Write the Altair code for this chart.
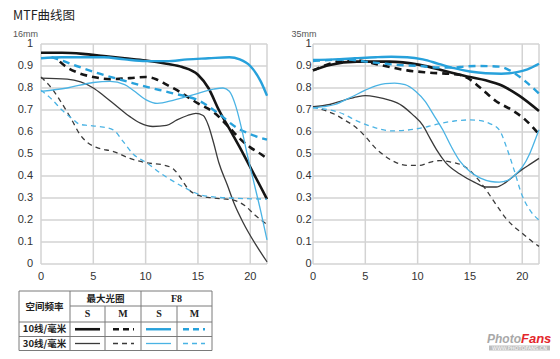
import altair as alt
import pandas as pd

# ---------------- data: 16mm panel ----------------
L_S10_x = [0, 2, 4, 6, 8, 10, 12, 13.5, 15, 16, 17, 18, 19, 20, 21, 21.6]
L_S10_y = [0.96, 0.96, 0.955, 0.945, 0.935, 0.925, 0.91, 0.895, 0.86, 0.8, 0.7, 0.615, 0.53, 0.44, 0.35, 0.295]
L_M10_x = [1.8, 2.3, 3.5, 5, 6.6, 8.5, 10, 11, 12, 13, 14, 15, 16.5, 18, 19, 20, 21, 21.6]
L_M10_y = [0.92, 0.9, 0.87, 0.85, 0.84, 0.845, 0.85, 0.84, 0.815, 0.79, 0.76, 0.73, 0.69, 0.62, 0.57, 0.53, 0.5, 0.48]
L_F8S10_x = [0, 2, 4, 6, 8, 10, 12, 14, 16, 18, 19, 20, 21, 21.6]
L_F8S10_y = [0.935, 0.94, 0.94, 0.94, 0.93, 0.922, 0.922, 0.93, 0.935, 0.94, 0.93, 0.9, 0.83, 0.765]
L_F8M10_x = [1, 2, 3.4, 5.6, 8.2, 10.1, 12.7, 15.2, 16.8, 18.7, 20, 21.6]
L_F8M10_y = [0.94, 0.925, 0.9, 0.865, 0.83, 0.805, 0.775, 0.74, 0.69, 0.62, 0.59, 0.565]
L_S30_x = [0, 2.5, 5, 6, 7.3, 8.5, 9.5, 10.7, 12, 13, 14, 14.8, 15.5, 16, 16.5, 17, 17.8, 18.5, 19.3, 20.5, 21.6]
L_S30_y = [0.845, 0.84, 0.8, 0.765, 0.715, 0.67, 0.64, 0.625, 0.63, 0.655, 0.675, 0.685, 0.675, 0.63, 0.55, 0.46, 0.36, 0.27, 0.19, 0.09, 0.01]
L_M30_x = [0, 1, 2, 3, 3.7, 4.5, 5.3, 7, 8.5, 10.1, 11.7, 12.7, 13.5, 14, 15.2, 16.5, 18.4, 19.5, 20.5, 21.6]
L_M30_y = [0.85, 0.8, 0.73, 0.65, 0.59, 0.55, 0.53, 0.51, 0.48, 0.46, 0.45, 0.43, 0.38, 0.345, 0.31, 0.3, 0.29, 0.265, 0.22, 0.18]
L_F8S30_x = [0, 2.5, 5, 6.6, 8, 8.8, 10.1, 11.1, 12.7, 14.6, 16.5, 17.4, 18, 18.6, 19.2, 19.7, 20.3, 21, 21.6]
L_F8S30_y = [0.785, 0.8, 0.825, 0.83, 0.815, 0.79, 0.745, 0.73, 0.745, 0.77, 0.795, 0.8, 0.785, 0.72, 0.61, 0.5, 0.38, 0.24, 0.11]
L_F8M30_x = [0, 1, 2, 3, 3.7, 4.5, 5.5, 6.9, 7.8, 8.8, 10.1, 11.5, 12.5, 14, 15.2, 16.5, 18, 19.5, 21.6]
L_F8M30_y = [0.79, 0.75, 0.7, 0.66, 0.635, 0.63, 0.625, 0.61, 0.56, 0.5, 0.46, 0.41, 0.38, 0.34, 0.315, 0.305, 0.3, 0.297, 0.295]

# ---------------- data: 35mm panel ----------------
R_S10_x = [0, 1.6, 4.2, 7.3, 10.2, 12.8, 15, 16.5, 18.1, 19.7, 21.6]
R_S10_y = [0.88, 0.905, 0.92, 0.92, 0.905, 0.875, 0.85, 0.835, 0.81, 0.765, 0.695]
R_M10_x = [0, 1.6, 3, 4.2, 6.4, 9, 11.1, 14, 14.8, 15.9, 17.5, 19, 20.3, 21.6]
R_M10_y = [0.88, 0.91, 0.925, 0.925, 0.905, 0.88, 0.87, 0.86, 0.845, 0.805, 0.74, 0.7, 0.655, 0.59]
R_F8S10_x = [0, 2, 4, 6, 7.5, 9, 10.5, 12, 13.5, 15, 16.5, 18, 19.5, 20.5, 21.6]
R_F8S10_y = [0.927, 0.93, 0.935, 0.94, 0.942, 0.94, 0.93, 0.91, 0.89, 0.875, 0.867, 0.865, 0.872, 0.885, 0.91]
R_F8M10_x = [0, 2, 3.2, 5, 6.4, 8, 10.2, 12, 13.3, 14.6, 16, 17.8, 19, 20.3, 21.6]
R_F8M10_y = [0.923, 0.928, 0.93, 0.92, 0.913, 0.905, 0.9, 0.893, 0.893, 0.898, 0.9, 0.897, 0.875, 0.83, 0.775]
R_S30_x = [0, 1.6, 3, 4.2, 5, 6, 7.3, 8.5, 9.5, 10.5, 11.2, 11.8, 12.7, 14, 15.5, 16.5, 17.5, 18.4, 19.2, 20, 20.8, 21.6]
R_S30_y = [0.715, 0.725, 0.745, 0.76, 0.765, 0.76, 0.745, 0.72, 0.68, 0.63, 0.57, 0.52, 0.46, 0.41, 0.37, 0.35, 0.35, 0.37, 0.4, 0.43, 0.455, 0.48]
R_M30_x = [0, 1, 2.1, 3, 4, 5, 5.9, 6.9, 8, 9, 10.2, 11, 12.1, 13, 14.6, 15.5, 16.5, 17.5, 18.4, 19.2, 20, 21, 21.6]
R_M30_y = [0.715, 0.7, 0.68, 0.655, 0.625, 0.58, 0.53, 0.49, 0.46, 0.448, 0.448, 0.46, 0.47, 0.465, 0.44, 0.4, 0.34, 0.27, 0.21, 0.17, 0.14, 0.1, 0.08]
R_F8S30_x = [0, 1, 2.1, 3.5, 5, 6, 6.9, 7.8, 8.8, 9.8, 10.7, 11.5, 12.4, 13.2, 14, 15, 16, 17, 17.8, 18.6, 19.3, 20, 20.7, 21.2, 21.6]
R_F8S30_y = [0.71, 0.715, 0.725, 0.755, 0.79, 0.81, 0.82, 0.822, 0.815, 0.785, 0.74, 0.68, 0.61, 0.535, 0.47, 0.42, 0.39, 0.375, 0.372, 0.38, 0.405, 0.44, 0.5, 0.56, 0.61]
R_F8M30_x = [0, 1, 2.1, 3, 4, 5, 5.9, 7.5, 9.7, 11, 12.1, 13.5, 15, 16, 16.8, 17.8, 18.5, 19.2, 20, 20.8, 21.6]
R_F8M30_y = [0.71, 0.705, 0.695, 0.68, 0.655, 0.635, 0.62, 0.605, 0.613, 0.625, 0.638, 0.65, 0.655, 0.652, 0.64, 0.61, 0.53, 0.43, 0.31, 0.24, 0.2]

x_ticks = [0, 5, 10, 15, 20]
x_labels = ["0", "5", "10", "15", "20"]
y_ticks = [0, 0.1, 0.2, 0.3, 0.4, 0.5, 0.6, 0.7, 0.8, 0.9, 1]
y_labels = ["0", "0.1", "0.2", "0.3", "0.4", "0.5", "0.6", "0.7", "0.8", "0.9", "1"]
x_max = 21.6

series_keys = ["S10", "M10", "F8S10", "F8M10", "S30", "M30", "F8S30", "F8M30"]

left_data = {
    "S10": (L_S10_x, L_S10_y), "M10": (L_M10_x, L_M10_y),
    "F8S10": (L_F8S10_x, L_F8S10_y), "F8M10": (L_F8M10_x, L_F8M10_y),
    "S30": (L_S30_x, L_S30_y), "M30": (L_M30_x, L_M30_y),
    "F8S30": (L_F8S30_x, L_F8S30_y), "F8M30": (L_F8M30_x, L_F8M30_y),
}
right_data = {
    "S10": (R_S10_x, R_S10_y), "M10": (R_M10_x, R_M10_y),
    "F8S10": (R_F8S10_x, R_F8S10_y), "F8M10": (R_F8M10_x, R_F8M10_y),
    "S30": (R_S30_x, R_S30_y), "M30": (R_M30_x, R_M30_y),
    "F8S30": (R_F8S30_x, R_F8S30_y), "F8M30": (R_F8M30_x, R_F8M30_y),
}

BLACK = "#151515"
DARK = "#3a3a3a"
BLUE = "#27a1db"
LBLUE = "#4ab3e4"
GRID = "#d3d3d3"
styles = {
    "S10": dict(color=BLACK, strokeWidth=2.6),
    "M10": dict(color=BLACK, strokeWidth=2.6, strokeDash=[7, 5]),
    "F8S10": dict(color=BLUE, strokeWidth=2.4),
    "F8M10": dict(color=BLUE, strokeWidth=2.4, strokeDash=[7, 5]),
    "S30": dict(color=DARK, strokeWidth=1.3),
    "M30": dict(color=DARK, strokeWidth=1.3, strokeDash=[5, 4]),
    "F8S30": dict(color=LBLUE, strokeWidth=1.3),
    "F8M30": dict(color=LBLUE, strokeWidth=1.3, strokeDash=[5, 4]),
}

W, H = 543, 343          # whole drawing (svg) size
PLOT_TOP, PLOT_BOT = 36, 256
YSC = alt.Scale(domain=[0, 1], range=[PLOT_BOT, PLOT_TOP], nice=False, zero=False)

layers = []


def to_df(d):
    rows = []
    for k in series_keys:
        xs, ys = d[k]
        for a, b in zip(xs, ys):
            rows.append({"x": a, "v": b, "s": k})
    return pd.DataFrame(rows)


def add_panel(d, x0, x1, lab_right, label, label_x):
    xsc = alt.Scale(domain=[0, x_max], range=[x0, x1], nice=False, zero=False)
    # grid
    layers.append(alt.Chart(pd.DataFrame({"x": x_ticks})).mark_rule(color=GRID, strokeWidth=1.5).encode(
        x=alt.X("x:Q", scale=xsc, axis=None), y=alt.value(PLOT_TOP), y2=alt.value(PLOT_BOT)))
    layers.append(alt.Chart(pd.DataFrame({"v": y_ticks})).mark_rule(color=GRID, strokeWidth=1.5).encode(
        y=alt.Y("v:Q", scale=YSC, axis=None), x=alt.value(x0), x2=alt.value(x1)))
    layers.append(alt.Chart(pd.DataFrame({"x": [x_max], "v": [0]})).mark_rule(color=GRID, strokeWidth=1.5).encode(
        x=alt.X("x:Q", scale=xsc, axis=None), y=alt.value(PLOT_TOP), y2=alt.value(PLOT_BOT)))
    # curves
    df = to_df(d)
    for k in series_keys:
        layers.append(
            alt.Chart(df).mark_line(interpolate="monotone", **styles[k])
            .encode(x=alt.X("x:Q", scale=xsc, axis=None), y=alt.Y("v:Q", scale=YSC, axis=None))
            .transform_filter(alt.datum.s == k)
        )
    # tick labels
    layers.append(alt.Chart(pd.DataFrame({"x": x_ticks, "t": x_labels})).mark_text(
        fontSize=11, font="Liberation Sans", color="#333333", baseline="middle").encode(
        x=alt.X("x:Q", scale=xsc, axis=None), y=alt.value(PLOT_BOT + 13), text="t:N"))
    layers.append(alt.Chart(pd.DataFrame({"v": y_ticks, "t": y_labels})).mark_text(
        fontSize=11, font="Liberation Sans", color="#333333", baseline="middle", align="right").encode(
        y=alt.Y("v:Q", scale=YSC, axis=None), x=alt.value(lab_right), text="t:N"))
    # focal length label
    layers.append(alt.Chart(pd.DataFrame({"t": [label]})).mark_text(
        align="left", baseline="middle", fontSize=9, color="#555555", font="Liberation Sans").encode(
        x=alt.value(label_x), y=alt.value(25.5), text="t:N"))


add_panel(left_data, 33, 259, 25, "16mm", 5)
add_panel(right_data, 305, 531, 303.5, "35mm", 283.5)

# title
layers.append(alt.Chart(pd.DataFrame({"t": ["MTF曲线图"]})).mark_text(
    align="left", baseline="middle", fontSize=12.5, color="#222222", font="Noto Sans CJK SC").encode(
    x=alt.value(5), y=alt.value(8), text="t:N"))

# ---------------- legend table (page-pixel coordinates) ----------------
TX = alt.Scale(domain=[8, 8 + W], range=[0, W], nice=False, zero=False)
TY = alt.Scale(domain=[8, 8 + H], range=[0, H], nice=False, zero=False)

T_top, T_h1, T_h2, T_r1, T_bot = 291, 306, 322, 336.5, 350.5
C0, C1, C2, C3, C4, C5 = 19, 70, 105, 141, 177, 212
segs = [
    (C0, C5, T_top, T_top), (C0, C5, T_bot, T_bot), (C0, C0, T_top, T_bot), (C5, C5, T_top, T_bot),
    (C1, C1, T_top, T_bot), (C3, C3, T_top, T_bot), (C2, C2, T_h1, T_bot), (C4, C4, T_h1, T_bot),
    (C1, C5, T_h1, T_h1), (C0, C5, T_h2, T_h2), (C0, C5, T_r1, T_r1),
]
seg_df = pd.DataFrame(segs, columns=["x", "x2", "y", "y2"])
layers.append(alt.Chart(seg_df).mark_rule(color="#7a7a7a", strokeWidth=1).encode(
    x=alt.X("x:Q", scale=TX, axis=None), x2="x2:Q", y=alt.Y("y:Q", scale=TY, axis=None), y2="y2:Q"))

r1c = (T_h2 + T_r1) / 2
r2c = (T_r1 + T_bot) / 2
h1c = (T_top + T_h1) / 2
h2c = (T_h1 + T_h2) / 2
cn_df = pd.DataFrame({
    "t": ["空间频率", "最大光圈", "10线/毫米", "30线/毫米"],
    "x": [(C0 + C1) / 2, (C1 + C3) / 2, (C0 + C1) / 2, (C0 + C1) / 2],
    "y": [(T_top + T_h2) / 2, h1c, r1c, r2c],
})
layers.append(alt.Chart(cn_df).mark_text(fontSize=9.5, font="Noto Sans CJK SC", fontWeight="bold",
                                         color="#222222", baseline="middle").encode(
    x=alt.X("x:Q", scale=TX, axis=None), y=alt.Y("y:Q", scale=TY, axis=None), text="t:N"))
lat_df = pd.DataFrame({
    "t": ["F8", "S", "M", "S", "M"],
    "x": [(C3 + C5) / 2, (C1 + C2) / 2, (C2 + C3) / 2, (C3 + C4) / 2, (C4 + C5) / 2],
    "y": [h1c, h2c, h2c, h2c, h2c],
})
layers.append(alt.Chart(lat_df).mark_text(fontSize=10, font="Liberation Serif", fontWeight="bold",
                                          color="#222222", baseline="middle").encode(
    x=alt.X("x:Q", scale=TX, axis=None), y=alt.Y("y:Q", scale=TY, axis=None), text="t:N"))

sample_cells = {
    "S10": (75, 100, r1c), "M10": (113, 134, r1c), "F8S10": (146, 171, r1c), "F8M10": (183, 205, r1c),
    "S30": (75, 100, r2c), "M30": (113, 134, r2c), "F8S30": (146, 171, r2c), "F8M30": (183, 205, r2c),
}
for k in series_keys:
    a, b, yy = sample_cells[k]
    st = dict(styles[k])
    if "strokeDash" in st:
        st["strokeDash"] = [6, 4] if st["strokeWidth"] > 2 else [5, 4]
    layers.append(alt.Chart(pd.DataFrame({"x": [a], "x2": [b], "y": [yy]})).mark_rule(**st).encode(
        x=alt.X("x:Q", scale=TX, axis=None), x2="x2:Q", y=alt.Y("y:Q", scale=TY, axis=None)))

# watermark
layers.append(alt.Chart(pd.DataFrame({"t": ["Photo"], "x": [521], "y": [338.5]})).mark_text(
    align="right", baseline="middle", fontSize=12, font="Liberation Sans", fontWeight="bold",
    fontStyle="italic", color="#a8a8a8").encode(
    x=alt.X("x:Q", scale=TX, axis=None), y=alt.Y("y:Q", scale=TY, axis=None), text="t:N"))
layers.append(alt.Chart(pd.DataFrame({"t": ["Fans"], "x": [521], "y": [338.5]})).mark_text(
    align="left", baseline="middle", fontSize=13, font="Liberation Sans", fontWeight="bold",
    fontStyle="italic", color="#e3262b").encode(
    x=alt.X("x:Q", scale=TX, axis=None), y=alt.Y("y:Q", scale=TY, axis=None), text="t:N"))
layers.append(alt.Chart(pd.DataFrame({"x": [489], "x2": [550], "y": [345.5], "y2": [350.5]})).mark_rect(
    color="#bdbdbd").encode(
    x=alt.X("x:Q", scale=TX, axis=None), x2="x2:Q", y=alt.Y("y:Q", scale=TY, axis=None), y2="y2:Q"))
layers.append(alt.Chart(pd.DataFrame({"t": ["WWW.PHOTOFANS.CN"], "x": [519.5], "y": [348]})).mark_text(
    fontSize=5, font="DejaVu Sans", color="#ffffff", baseline="middle").encode(
    x=alt.X("x:Q", scale=TX, axis=None), y=alt.Y("y:Q", scale=TY, axis=None), text="t:N"))

chart = alt.layer(*layers).resolve_scale(x="independent", y="independent").properties(
    width=W, height=H, autosize=alt.AutoSizeParams(type="none"), padding=0
).configure_view(stroke=None)

chart.save("out.html", embed_options={"renderer": "svg", "actions": False})
